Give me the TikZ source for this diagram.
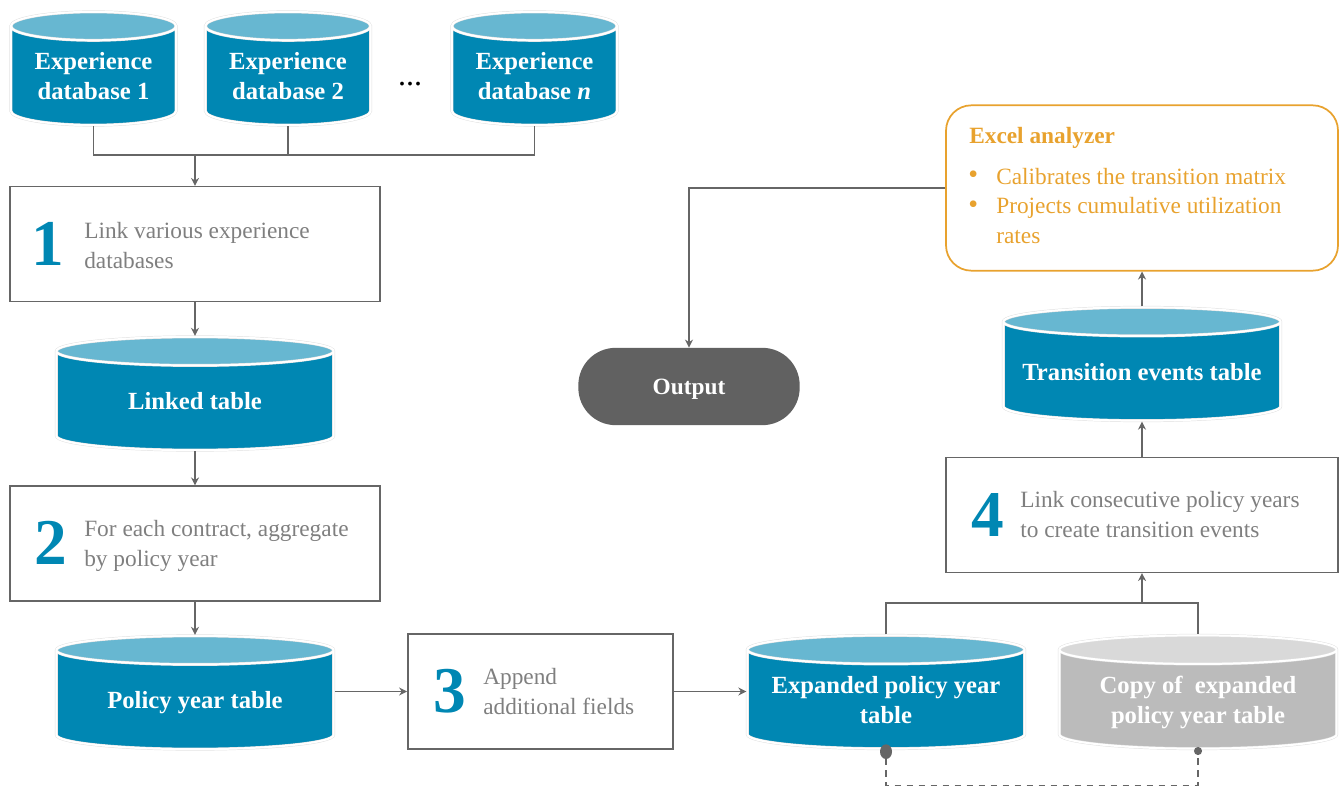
\documentclass[tikz,border=0pt]{standalone}
\usepackage{fontspec}
\setmainfont{Liberation Serif}
\usetikzlibrary{arrows.meta,shapes.geometric}
\definecolor{tealdark}{HTML}{0087B3}
\definecolor{teallight}{HTML}{67B7D1}
\definecolor{greydark}{HTML}{BBBBBB}
\definecolor{greylight}{HTML}{D9D9D9}
\definecolor{linegrey}{HTML}{666666}
\definecolor{textgrey}{HTML}{7F7F7F}
\definecolor{amber}{HTML}{E8A22E}
\tikzset{
  dbase/.style={shape=cylinder,shape border rotate=90,aspect=#1,draw=white,line width=1.5pt,
    preaction={draw=black!12,line width=2.2pt},
    cylinder uses custom fill,cylinder end fill=teallight,cylinder body fill=tealdark,
    text=white,align=flush center,text depth=0pt,font=\fontsize{18.5}{22.5}\selectfont\bfseries,inner sep=0pt,anchor=shape center},
  smallbase/.style={dbase=0.19,text width=112.5pt,minimum width=124pt,minimum height=85pt},
  widebase/.style={dbase=0.113,text width=190pt,minimum width=208pt,minimum height=85pt},
  greybase/.style={widebase,cylinder end fill=greylight,cylinder body fill=greydark},
  twoline/.style={text depth=22.5pt},
  stepbox/.style={draw=linegrey,line width=1.1pt,minimum width=#1,minimum height=86pt,inner sep=0pt},
  stepnum/.style={text=tealdark,inner sep=0pt,font=\fontsize{49}{49}\selectfont\bfseries},
  steptext/.style={text=textgrey,anchor=west,align=left,inner sep=0pt,font=\fontsize{17.5}{22.5}\selectfont},
  excel/.style={text=amber,anchor=base west,inner sep=0pt,font=\fontsize{17.5}{22.5}\selectfont},
  conn/.style={draw=linegrey,line width=1.2pt},
  flow/.style={conn,-{Stealth[length=6pt,width=6pt]}}
}
\begin{document}
\begin{tikzpicture}[x=0.75pt,y=-0.75pt]
  \useasboundingbox (0,0) rectangle (1341,787);
  % cylinders
  \node[smallbase,twoline] (db1) at (93.5,68.5) {Experience\\database 1};
  \node[smallbase,twoline] (db2) at (288,68.5) {Experience\\database 2};
  \node[smallbase,twoline] (dbn) at (534.5,68.5) {Experience\\database \textit{n}};
  \node[widebase] (linked) at (195,393.5) {Linked table};
  \node[widebase] (policy) at (195,692.5) {Policy year table};
  \node[widebase,twoline] (expanded) at (886,692) {Expanded policy year\\table};
  \node[greybase,twoline] (copy) at (1198,692) {Copy of \ expanded\\policy year table};
  \node[widebase] (transition) at (1142,364) {Transition events table};
  \node[inner sep=0pt,font=\fontsize{24}{24}\selectfont] (dots) at (410,84) {...};
  % steps
  \node[stepbox=277.5pt] (step1) at (195,244) {};
  \node[stepbox=277.5pt] (step2) at (195,543.5) {};
  \node[stepbox=199pt] (step3) at (540.5,691.5) {};
  \node[stepbox=294pt] (step4) at (1142,515) {};
  \node[stepnum] (num1) at (48,243.5) {1};
  \node[stepnum] (num2) at (51,543) {2};
  \node[stepnum] (num3) at (450,691) {3};
  \node[stepnum] (num4) at (988,515) {4};
  \node[steptext] (text1) at (84,246) {Link various experience\\databases};
  \node[steptext] (text2) at (84,546) {For each contract, aggregate\\by policy year};
  \node[steptext] (text3) at (483,692) {Append\\additional fields};
  \node[steptext] (text4) at (1020,515) {Link consecutive policy years\\to create transition events};
  % excel and output
  \node[draw=amber,line width=1.3pt,rounded corners=19pt,minimum width=294pt,minimum height=124pt] (analyzer) at (1142,188) {};
  \node[excel,font=\fontsize{17.5}{22.5}\selectfont\bfseries] (head) at (969,144) {Excel analyzer};
  \node[excel,font=\fontsize{21}{22.5}\selectfont] (bull1) at (968,184) {•};
  \node[excel] (line1) at (996,185) {Calibrates the transition matrix};
  \node[excel,font=\fontsize{21}{22.5}\selectfont] (bull2) at (968,214) {•};
  \node[excel] (line2) at (996,214) {Projects cumulative utilization};
  \node[excel] (line3) at (996,244) {rates};
  \node[fill=linegrey!95!black,rounded corners=28pt,minimum width=166pt,minimum height=58pt,text=white,text depth=0pt,font=\fontsize{17.5}{22.5}\selectfont\bfseries] (output) at (689,386.5) {Output};
  % connectors
  \coordinate (merge) at (195,155);
  \coordinate (join) at (1142,603);
  \draw[conn] (db1.south) |- (dbn.south |- merge) -- (dbn.south);
  \draw[conn] (db2.south) -- (db2.south |- merge);
  \draw[flow] (merge) -- (merge |- step1.north);
  \draw[flow] (step1.south) -- (linked.north);
  \draw[flow] (linked.south) -- (step2.north);
  \draw[flow] (step2.south) -- (policy.north);
  \draw[flow] (policy.east |- step3.west) -- (step3.west);
  \draw[flow] (step3.east) -- (expanded.west |- step3.east);
  \draw[conn] (expanded.north) |- (join) -| (copy.north);
  \draw[flow] (join) -- (step4.south);
  \draw[flow] (step4.north) -- (transition.south);
  \draw[flow] (transition.north) -- (analyzer.south);
  \draw[flow] (analyzer.west) -| (output.north);
  \draw[conn,dash pattern=on 5pt off 4pt,shorten <=-4pt,shorten >=-2pt,{Circle[length=11pt,width=9pt]}-{Circle[length=6pt,width=6pt]}] (expanded.south) -- ++(0,36) -| (copy.south);
\end{tikzpicture}
\end{document}
